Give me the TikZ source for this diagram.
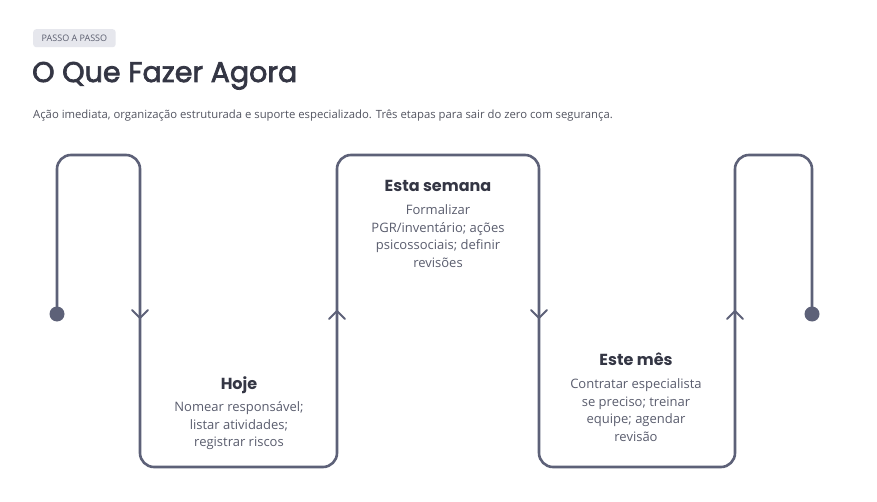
\documentclass[tikz,border=0pt]{standalone}
\usepackage{fontspec}
\setmainfont{Open Sans}
\newfontfamily\headfont{Poppins}
\newfontfamily\titlefont[FakeBold=2.5]{Poppins}
\definecolor{linec}{HTML}{5D6178}
\definecolor{titlec}{HTML}{343644}
\definecolor{bodyc}{HTML}{5A5D6E}
\definecolor{badgec}{HTML}{E6E7ED}
\begin{document}
\begin{tikzpicture}[x=1pt,y=-1pt,
  flow/.style={draw=linec,line width=2.6pt,rounded corners=14pt,line join=round},
  chev/.style={draw=linec,line width=2pt,line cap=round,line join=miter},
  dotc/.style={circle,fill=linec,inner sep=0pt,minimum size=15pt},
  head/.style={font=\headfont\bfseries\fontsize{16}{19}\selectfont,text=titlec,anchor=base},
  body/.style={font=\fontsize{13}{17.6}\selectfont,text=bodyc,align=center,anchor=north}]
\useasboundingbox (0,0) rectangle (877,502);
\fill[white] (0,0) rectangle (877,502);
% badge
\node[fill=badgec,rounded corners=3pt,anchor=north west,inner xsep=8.5pt,inner ysep=3pt,
  font=\fontsize{9}{10}\selectfont,text=bodyc,minimum height=18pt] (badge) at (33,29) {PASSO A PASSO};
\node[anchor=base west,inner sep=0pt,font=\titlefont\fontsize{28.5}{32}\selectfont,text=titlec] (title) at (32,82) {O Que Fazer Agora};
\node[anchor=base west,inner sep=0pt,font=\fontsize{11.3}{13}\selectfont,text=titlec!85] (sub) at (33,119) {Ação imediata, organização estruturada e suporte especializado. Três etapas para sair do zero com segurança.};
% path
\coordinate (s) at (57,314);
\coordinate (e) at (812,314);
\draw[flow] (s) -- (57,155) -- (140,155) -- (140,467) -- (337,467) -- (337,155) -- (539,155) -- (539,467) -- (735,467) -- (735,155) -- (812,155) -- (e);
\node[dotc] (sd) at (s) {};
\node[dotc] (ed) at (e) {};
% chevrons
\coordinate (c1) at (140,318);
\coordinate (c2) at (337,311);
\coordinate (c3) at (539,318);
\coordinate (c4) at (735,311);
\draw[chev] ([shift={(-8,-8)}]c1) -- (c1) -- ([shift={(8,-8)}]c1);
\draw[chev] ([shift={(-8,8)}]c2) -- (c2) -- ([shift={(8,8)}]c2);
\draw[chev] ([shift={(-8,-8)}]c3) -- (c3) -- ([shift={(8,-8)}]c3);
\draw[chev] ([shift={(-8,8)}]c4) -- (c4) -- ([shift={(8,8)}]c4);
% texts
\node[head] (h1) at (239,389) {Hoje};
\node[body] (b1) at (239,398) {Nomear responsável;\\listar atividades;\\registrar riscos};
\node[head] (h2) at (438,192) {Esta semana};
\node[body] (b2) at (438,201) {Formalizar\\PGR/inventário; ações\\psicossociais; definir\\revisões};
\node[head] (h3) at (636,365) {Este mês};
\node[body] (b3) at (636,375) {Contratar especialista\\se preciso; treinar\\equipe; agendar\\revisão};
\end{tikzpicture}
\end{document}
